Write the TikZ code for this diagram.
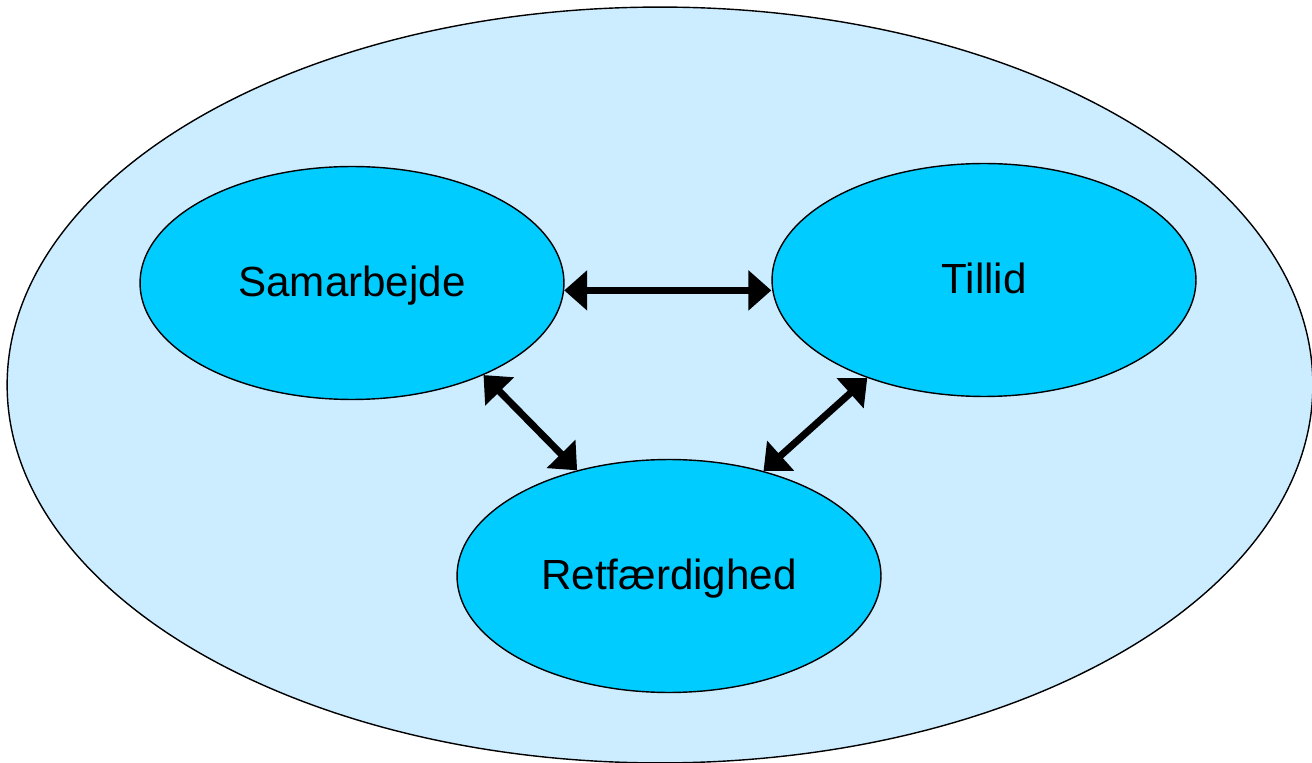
\documentclass[tikz,border=0pt]{standalone}
\usepackage{fontspec}
\setmainfont{Liberation Sans}
\usetikzlibrary{arrows.meta, shapes.geometric}
\definecolor{outerblue}{HTML}{CCECFF}
\definecolor{cellblue}{HTML}{00CCFF}
\tikzset{
  outer/.style={ellipse, draw=black, line width=0.8pt, fill=outerblue,
                minimum width=26.12cm, minimum height=15.12cm},
  bubble/.style={ellipse, draw=black, line width=0.8pt, fill=cellblue,
                 minimum width=8.48cm, minimum height=4.66cm,
                 text height=0.64cm, text depth=0.09cm,
                 font=\fontsize{24}{28}\selectfont},
  link/.style={{Triangle[length=0.46cm, width=0.78cm]}-{Triangle[length=0.46cm, width=0.78cm]},
               line width=0.14cm, draw=black},
}

\begin{document}
\begin{tikzpicture}[x=0.02cm, y=-0.02cm]
  \useasboundingbox (0,0) rectangle (1312,763);
  \node[outer] (world) at (660,385) {};

  \node[bubble] (sam) at (352,283) {Samarbejde};
  \node[bubble] (til) at (984,280) {Tillid};
  \node[bubble] (ret) at (669,576) {Retfærdighed};

  % straight across, kept level
  \draw[link] (sam.-2) -- (sam.-2 -| til.west);
  \draw[link] (sam.-35) -- (ret.131);
  \draw[link] (til.-140) -- (ret.48);
\end{tikzpicture}
\end{document}
